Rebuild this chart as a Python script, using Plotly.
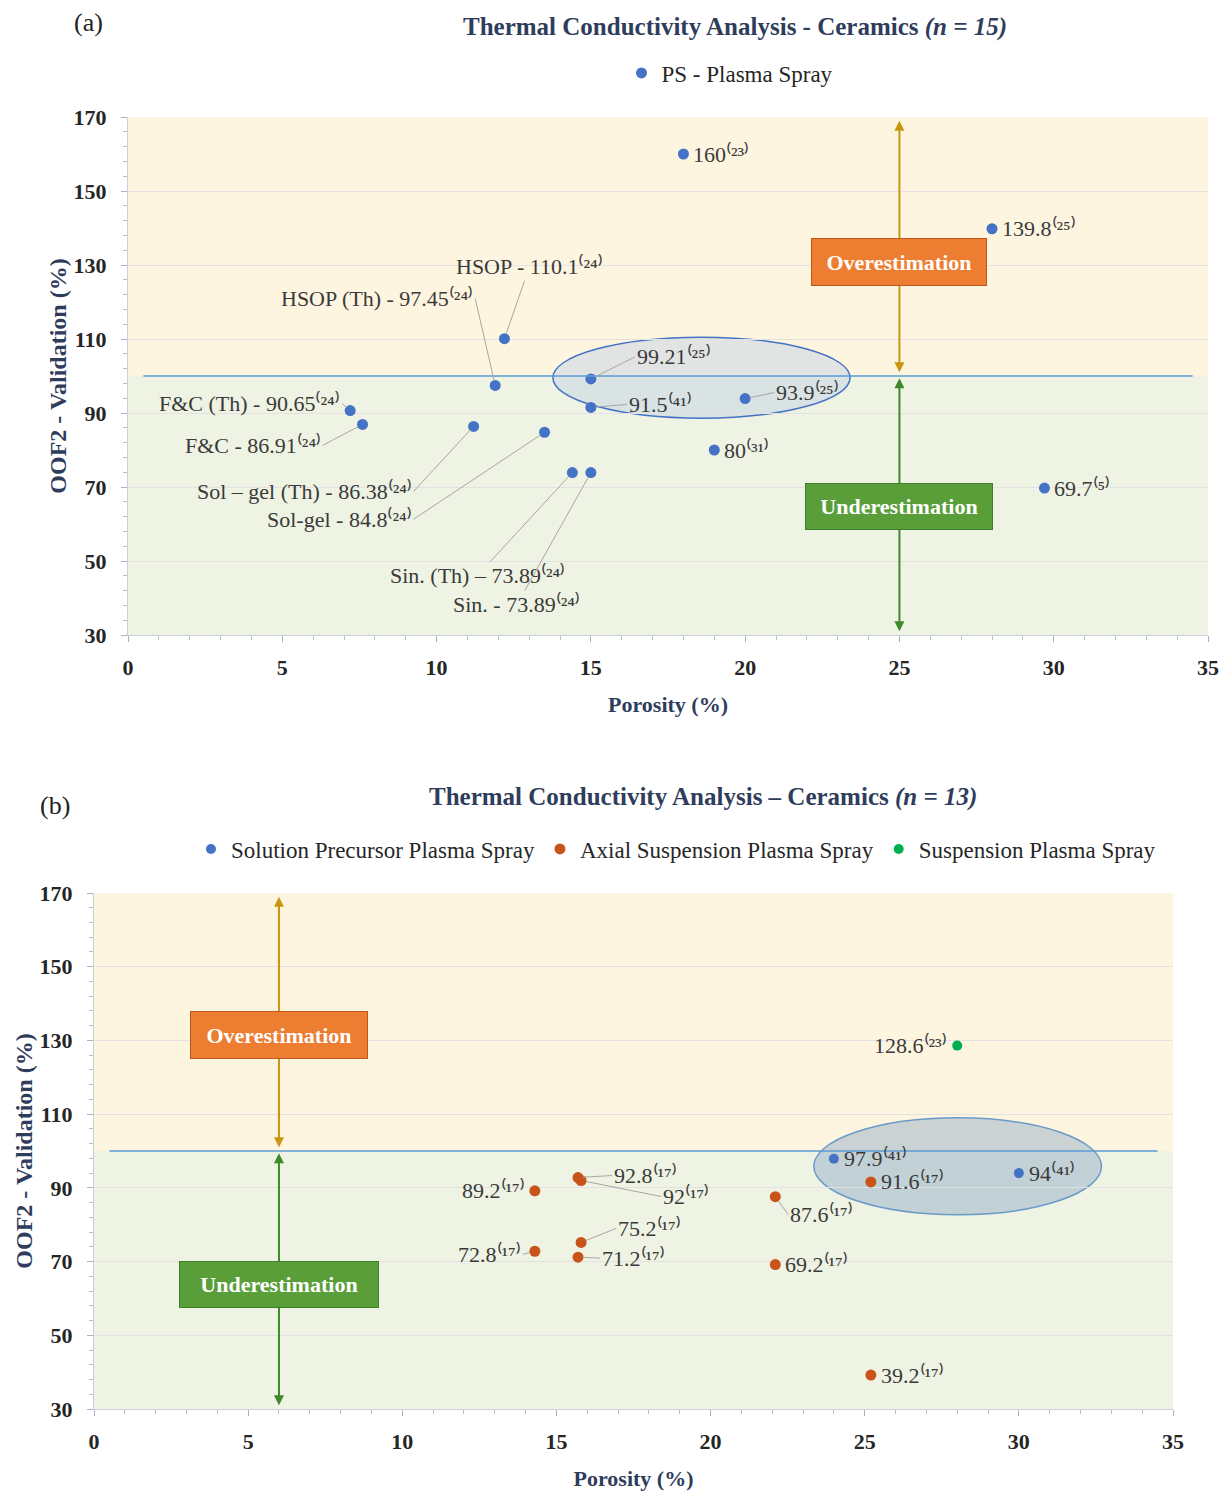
import plotly.graph_objects as go

# ---------------- Panel (a) data : PS - Plasma Spray ----------------
a_porosity = [18.0, 28.0, 12.2, 11.9, 15.0, 15.0, 20.0, 19.0, 7.2, 7.6, 11.2, 13.5, 14.4, 15.0, 29.7]
a_oof2 = [160, 139.8, 110.1, 97.45, 99.21, 91.5, 93.9, 80, 90.65, 86.91, 86.38, 84.8, 73.89, 73.89, 69.7]
a_names = ["160", "139.8", "HSOP - 110.1", "HSOP (Th) - 97.45", "99.21", "91.5", "93.9", "80",
           "F&C (Th) - 90.65", "F&C - 86.91", "Sol – gel (Th) - 86.38", "Sol-gel - 84.8",
           "Sin. (Th) – 73.89", "Sin. - 73.89", "69.7"]
a_refs = ["23", "25", "24", "24", "25", "41", "25", "31", "24", "24", "24", "24", "24", "24", "5"]

# ---------------- Panel (b) data ----------------
b_sp_porosity = [24.0, 30.0]            # Solution Precursor Plasma Spray
b_sp_oof2 = [97.9, 94]
b_sp_refs = ["41", "41"]
b_as_porosity = [25.2, 14.3, 15.7, 15.8, 15.8, 14.3, 15.7, 22.1, 22.1, 25.2]   # Axial Suspension Plasma Spray
b_as_oof2 = [91.6, 89.2, 92.8, 92, 75.2, 72.8, 71.2, 87.6, 69.2, 39.2]
b_as_refs = ["17"] * 10
b_s_porosity = [28.0]                    # Suspension Plasma Spray
b_s_oof2 = [128.6]
b_s_refs = ["23"]

x_ticks = [0, 5, 10, 15, 20, 25, 30, 35]
y_ticks = [30, 50, 70, 90, 110, 130, 150, 170]

# --------- label placement (styling, pixels) ---------
# None -> label to the right; "L" -> label to the left;
# (ax, ay, anchor) -> leader line to a label whose anchor side sits at offset (ax, ay)
a_place = [None, None, (25, -72, "center"), (-20, -87, "right"), (44, -22, "left"), (36, -3, "left"),
           (29, -6, "left"), None, (-8, -7, "right"), (-40, 21, "right"), (-60, 65, "right"),
           (-131, 87, "right"), (-95, 103, "center"), (-74, 132, "center"), None]
b_sp_place = [None, None]
b_as_place = [None, "L", (34, -2, "left"), (80, 16, "left"), (35, -14, "left"), (-12, 3, "right"),
              (22, 1, "left"), (13, 18, "left"), None, None]
b_s_place = ["L"]

FONT = "Liberation Serif, Times New Roman, serif"
BLUE = "#4472C4"
ORANGE = "#C9541A"
GREEN = "#00B050"
LABEL_COL = "#3A3A3A"
TITLE_COL = "#2F3D5C"
W, H = 1228, 1495

SUP = str.maketrans("0123456789()", "⁰¹²³⁴⁵⁶⁷⁸⁹⁽⁾")

fig = go.Figure()

fig.add_trace(go.Scatter(x=a_porosity, y=a_oof2, mode="markers", name="PS - Plasma Spray",
                         marker=dict(color=BLUE, size=11), xaxis="x", yaxis="y", legend="legend"))
fig.add_trace(go.Scatter(x=b_sp_porosity, y=b_sp_oof2, mode="markers", name="Solution Precursor Plasma Spray",
                         marker=dict(color=BLUE, size=10), xaxis="x2", yaxis="y2", legend="legend2"))
fig.add_trace(go.Scatter(x=b_as_porosity, y=b_as_oof2, mode="markers", name="Axial Suspension Plasma Spray",
                         marker=dict(color=ORANGE, size=11), xaxis="x2", yaxis="y2", legend="legend2"))
fig.add_trace(go.Scatter(x=b_s_porosity, y=b_s_oof2, mode="markers", name="Suspension Plasma Spray",
                         marker=dict(color=GREEN, size=10), xaxis="x2", yaxis="y2", legend="legend2"))

annotations = []
shapes = []


def add_labels(xs, ys, names, refs, places, xr, yr):
    for x, y, n, r, p in zip(xs, ys, names, refs, places):
        txt = n + f"({r})".translate(SUP)
        base = dict(x=x, y=y, xref=xr, yref=yr, text=txt,
                    font=dict(family=FONT, size=22, color=LABEL_COL))
        if p is None:
            annotations.append(dict(base, showarrow=False, xanchor="left", yanchor="middle", xshift=8))
        elif p == "L":
            annotations.append(dict(base, showarrow=False, xanchor="right", yanchor="middle", xshift=-8))
        else:
            annotations.append(dict(base, showarrow=True, arrowhead=0, arrowwidth=1, arrowcolor="#A6A6A6",
                                    ax=p[0], ay=p[1], standoff=5, xanchor=p[2], yanchor="middle"))


def add_panel_decor(xr, yr, arrow_x, over_y, under_y, over_w, under_w, ell, ell_fill, ell_line):
    # background bands
    shapes.append(dict(type="rect", xref=xr, yref=yr, x0=0, x1=35, y0=100, y1=170,
                       fillcolor="#FDF5E0", line=dict(width=0), layer="below"))
    shapes.append(dict(type="rect", xref=xr, yref=yr, x0=0, x1=35, y0=30, y1=100,
                       fillcolor="#EEF3E3", line=dict(width=0), layer="below"))
    # ellipse
    shapes.append(dict(type="circle", xref=xr, yref=yr, x0=ell[0], x1=ell[1], y0=ell[2], y1=ell[3],
                       fillcolor=ell_fill, line=dict(color=ell_line, width=1.5), layer="below"))
    # reference line at 100 %
    shapes.append(dict(type="line", xref=xr, yref=yr, x0=0.5, x1=34.5, y0=100, y1=100,
                       line=dict(color="#5B9BD5", width=1.5)))
    # double-headed arrows
    annotations.append(dict(x=arrow_x, y=169, ax=arrow_x, ay=100.6, xref=xr, yref=yr, axref=xr, ayref=yr,
                            text="", showarrow=True, arrowhead=2, arrowsize=1, arrowwidth=2,
                            arrowside="end+start", arrowcolor="#C9960F"))
    annotations.append(dict(x=arrow_x, y=99.4, ax=arrow_x, ay=30.6, xref=xr, yref=yr, axref=xr, ayref=yr,
                            text="", showarrow=True, arrowhead=2, arrowsize=1, arrowwidth=2,
                            arrowside="end+start", arrowcolor="#3E8A2A"))
    annotations.append(dict(x=arrow_x, y=over_y, xref=xr, yref=yr, text="<b>Overestimation</b>",
                            showarrow=False, bgcolor="#ED7D31", bordercolor="#C0561B", borderwidth=1,
                            width=over_w, height=42, borderpad=2,
                            font=dict(family=FONT, size=22, color="white")))
    annotations.append(dict(x=arrow_x, y=under_y, xref=xr, yref=yr, text="<b>Underestimation</b>",
                            showarrow=False, bgcolor="#5A9E3A", bordercolor="#3F7F29", borderwidth=1,
                            width=under_w, height=41, borderpad=2,
                            font=dict(family=FONT, size=22, color="white")))


add_panel_decor("x", "y", 25, 130.8, 64.6, 170, 182, (13.77, 23.4, 88.6, 110.5),
                "rgba(190,208,228,0.45)", BLUE)
add_panel_decor("x2", "y2", 6, 131.6, 63.8, 172, 194, (23.35, 32.68, 82.7, 109.0),
                "rgba(140,168,198,0.45)", "#6A9AC8")

add_labels(a_porosity, a_oof2, a_names, a_refs, a_place, "x", "y")
add_labels(b_sp_porosity, b_sp_oof2, [str(v) for v in b_sp_oof2], b_sp_refs, b_sp_place, "x2", "y2")
add_labels(b_as_porosity, b_as_oof2, [str(v) for v in b_as_oof2], b_as_refs, b_as_place, "x2", "y2")
add_labels(b_s_porosity, b_s_oof2, [str(v) for v in b_s_oof2], b_s_refs, b_s_place, "x2", "y2")

# titles and panel letters
paper_txt = dict(xref="paper", yref="paper", showarrow=False, xanchor="center", yanchor="middle")
annotations.append(dict(paper_txt, x=735 / W, y=1 - 27 / H,
                        text="<b>Thermal Conductivity Analysis - Ceramics <i>(n = 15)</i></b>",
                        font=dict(family=FONT, size=25, color=TITLE_COL)))
annotations.append(dict(paper_txt, x=703 / W, y=1 - 797 / H,
                        text="<b>Thermal Conductivity Analysis – Ceramics <i>(n = 13)</i></b>",
                        font=dict(family=FONT, size=25, color=TITLE_COL)))
annotations.append(dict(paper_txt, x=88 / W, y=1 - 22 / H,
                        text="(a)", font=dict(family=FONT, size=26, color="#222222")))
annotations.append(dict(paper_txt, x=55 / W, y=1 - 805 / H,
                        text="(b)", font=dict(family=FONT, size=26, color="#222222")))


def xaxis_cfg(domain, anchor):
    return dict(domain=domain, anchor=anchor, range=[0, 35], tickvals=x_ticks, ticks="outside", ticklen=6,
                tickcolor="#A9B2C4", showline=True, linecolor="#C9CFDB", showgrid=False, zeroline=False,
                minor=dict(dtick=1, ticks="outside", ticklen=4, tickcolor="#B8C0CF"),
                tickfont=dict(family=FONT, size=22, color="#262626", weight="bold"),
                ticklabelstandoff=7, automargin=False,
                title=dict(text="Porosity (%)", standoff=17,
                           font=dict(family=FONT, size=22, color=TITLE_COL, weight="bold")))


def yaxis_cfg(domain, anchor):
    return dict(domain=domain, anchor=anchor, range=[30, 170], tickvals=y_ticks, ticks="outside", ticklen=6,
                tickcolor="#A9B2C4", showline=True, linecolor="#C9CFDB", showgrid=True, gridcolor="#E2E2E2",
                zeroline=False,
                minor=dict(dtick=4, tick0=30, ticks="outside", ticklen=4, tickcolor="#B8C0CF", showgrid=False),
                tickfont=dict(family=FONT, size=22, color="#262626", weight="bold"),
                ticklabelstandoff=10, automargin=False,
                title=dict(text="OOF2 - Validation (%)", standoff=0,
                           font=dict(family=FONT, size=24, color=TITLE_COL, weight="bold")))


fig.update_layout(
    width=W, height=H,
    margin=dict(l=0, r=0, t=0, b=0),
    paper_bgcolor="white", plot_bgcolor="white",
    font=dict(family=FONT),
    xaxis=xaxis_cfg([128 / W, 1208 / W], "y"),
    yaxis=yaxis_cfg([1 - 635 / H, 1 - 117 / H], "x"),
    xaxis2=xaxis_cfg([94 / W, 1173 / W], "y2"),
    yaxis2=yaxis_cfg([1 - 1409 / H, 1 - 893 / H], "x2"),
    legend=dict(orientation="h", x=730 / W, y=1 - 73 / H, xanchor="center", yanchor="middle",
                font=dict(family=FONT, size=23, color="#262626"), bgcolor="rgba(0,0,0,0)"),
    legend2=dict(orientation="h", x=676 / W, y=1 - 849 / H, xanchor="center", yanchor="middle",
                 font=dict(family=FONT, size=23, color="#262626"), bgcolor="rgba(0,0,0,0)"),
    annotations=annotations,
    shapes=shapes,
    showlegend=True,
)

fig.write_html("out.html", config={"displayModeBar": False},
               post_script="document.body.style.margin='0';")
